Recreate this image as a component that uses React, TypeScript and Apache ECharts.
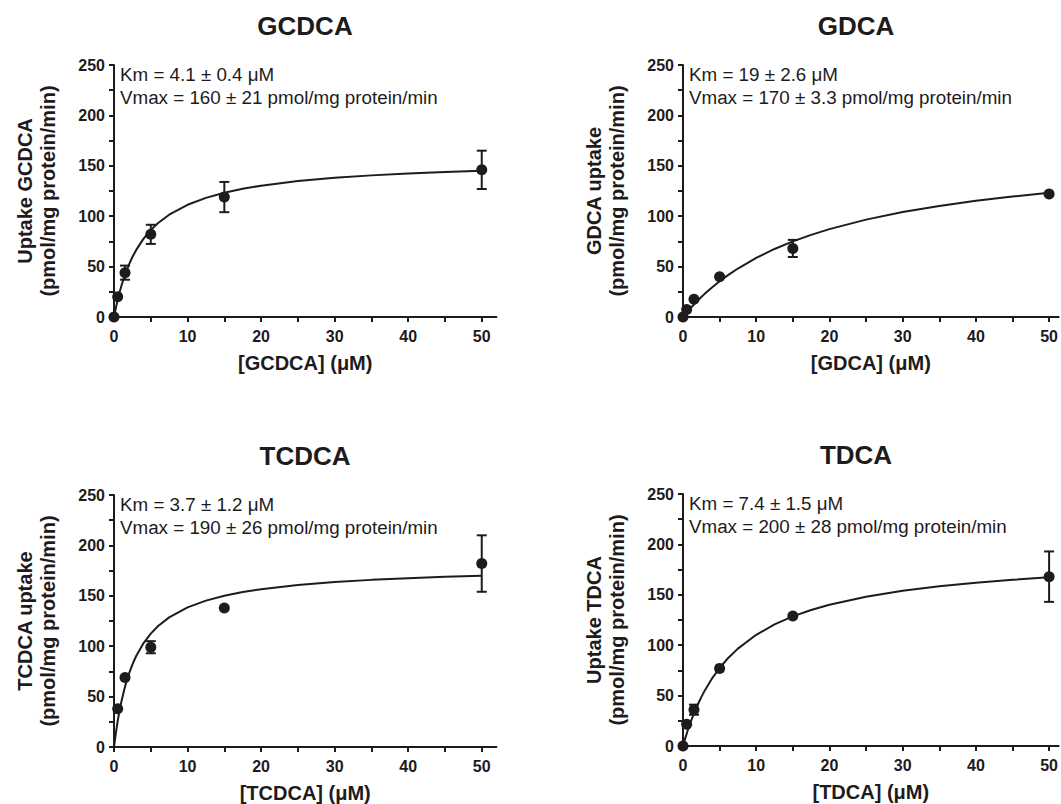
import React, { useEffect, useRef } from 'react';
import * as echarts from 'echarts';

// ---------- tick values ----------
const xLabelValues = [0, 10, 20, 30, 40, 50];
const xTickValues = [0, 5, 10, 15, 20, 25, 30, 35, 40, 45, 50];
const yLabelValues = [0, 50, 100, 150, 200, 250];

// ---------- measured data (mean, SEM) ----------
const gcdcaX = [0, 0.5, 1.5, 5, 15, 50];
const gcdcaY = [0, 20, 44, 82, 119, 146];
const gcdcaErr = [0, 0, 7, 9.5, 15, 19];

const gdcaX = [0, 0.5, 1.5, 5, 15, 50];
const gdcaY = [0, 7.5, 17.5, 40, 68, 122];
const gdcaErr = [0, 0, 0, 0, 8.5, 0];

const tcdcaX = [0.5, 1.5, 5, 15, 50];
const tcdcaY = [38, 69, 99, 138, 182];
const tcdcaErr = [0, 0, 6, 0, 28];

const tdcaX = [0, 0.5, 1.5, 5, 15, 50];
const tdcaY = [0, 21.5, 36, 77, 129, 168];
const tdcaErr = [0, 0, 5, 0, 0, 25];

// ---------- fitted curves ----------
const fitX = [0, 0.25, 0.5, 0.75, 1, 1.5, 2, 2.5, 3, 4, 5, 6, 7.5, 10, 12.5, 15, 17.5, 20, 25, 30, 35, 40, 45, 50];
const gcdcaFit = [0, 9.0, 17.1, 24.3, 30.8, 42.1, 51.5, 59.5, 66.3, 77.5, 86.3, 93.3, 101.5, 111.3, 118.2, 123.3, 127.2, 130.3, 134.9, 138.1, 140.5, 142.4, 143.9, 145.1];
const gdcaFit = [0, 2.2, 4.4, 6.5, 8.5, 12.4, 16.2, 19.8, 23.2, 29.6, 35.4, 40.8, 48.1, 58.6, 67.5, 75.0, 81.5, 87.2, 96.6, 104.1, 110.2, 115.3, 119.5, 123.2];
const tcdcaFit = [0, 13.8, 25.7, 36.0, 45.0, 60.0, 72.0, 81.8, 90.0, 102.9, 112.5, 120.0, 128.6, 138.5, 145.2, 150.0, 153.7, 156.5, 160.7, 163.6, 165.8, 167.4, 168.8, 169.8];
const tdcaFit = [0, 6.3, 12.2, 17.7, 22.9, 32.4, 40.9, 48.5, 55.4, 67.4, 77.4, 86.0, 96.6, 110.3, 120.6, 128.6, 134.9, 140.1, 148.1, 154.0, 158.5, 162.0, 164.9, 167.3];

// ---------- texts ----------
const titles = ['GCDCA', 'GDCA', 'TCDCA', 'TDCA'];
const yNames = ['Uptake GCDCA', 'GDCA uptake', 'TCDCA uptake', 'Uptake TDCA'];
const yUnit = '(pmol/mg protein/min)';
const xNames = ['[GCDCA] (μM)', '[GDCA] (μM)', '[TCDCA] (μM)', '[TDCA] (μM)'];
const kmTexts = ['Km = 4.1 ± 0.4 μM', 'Km = 19 ± 2.6 μM', 'Km = 3.7 ± 1.2 μM', 'Km = 7.4 ± 1.5 μM'];
const vmaxTexts = [
  'Vmax = 160 ± 21 pmol/mg protein/min',
  'Vmax = 170 ± 3.3 pmol/mg protein/min',
  'Vmax = 190 ± 26 pmol/mg protein/min',
  'Vmax = 200 ± 28 pmol/mg protein/min',
];

const INK = '#1e1b1c';
const FONT = '"Liberation Sans", Arial, Helvetica, sans-serif';

const panels = [
  { x: gcdcaX, y: gcdcaY, err: gcdcaErr, fit: gcdcaFit, left: 114, top: 65, xMax: 52, titleX: 305 },
  { x: gdcaX, y: gdcaY, err: gdcaErr, fit: gdcaFit, left: 683, top: 65, xMax: 51.3, titleX: 856 },
  { x: tcdcaX, y: tcdcaY, err: tcdcaErr, fit: tcdcaFit, left: 114, top: 495, xMax: 52, titleX: 305 },
  { x: tdcaX, y: tdcaY, err: tdcaErr, fit: tdcaFit, left: 683, top: 494, xMax: 51.3, titleX: 856 },
];

const PX_PER_X = 7.355;
const GRID_H = 252;

function buildOption() {
  const grid: any[] = [];
  const xAxis: any[] = [];
  const yAxis: any[] = [];
  const series: any[] = [];
  const graphic: any[] = [];

  panels.forEach((p, i) => {
    grid.push({ left: p.left, top: p.top, width: p.xMax * PX_PER_X, height: GRID_H, containLabel: false });
    xAxis.push({
      type: 'value',
      gridIndex: i,
      min: 0,
      max: p.xMax,
      splitLine: { show: false },
      axisLine: { show: true, onZero: false, lineStyle: { color: INK, width: 2 } },
      axisTick: { show: true, customValues: xTickValues, length: 5, lineStyle: { color: INK, width: 2 } },
      axisLabel: {
        customValues: xLabelValues,
        color: INK,
        fontFamily: FONT,
        fontWeight: 'bold',
        fontSize: 16,
        margin: 11,
      },
      name: xNames[i],
      nameLocation: 'middle',
      nameGap: 36,
      nameTextStyle: { color: INK, fontFamily: FONT, fontWeight: 'bold', fontSize: 20 },
    });
    yAxis.push({
      type: 'value',
      gridIndex: i,
      min: 0,
      max: 250,
      interval: 25,
      splitLine: { show: false },
      axisLine: { show: true, onZero: false, lineStyle: { color: INK, width: 2 } },
      axisTick: { show: true, length: 5, lineStyle: { color: INK, width: 2 } },
      axisLabel: {
        color: INK,
        fontFamily: FONT,
        fontWeight: 'bold',
        fontSize: 16,
        margin: 9,
        formatter: (v: number) => (yLabelValues.indexOf(v) >= 0 ? String(v) : ''),
      },
    });

    series.push({
      type: 'line',
      xAxisIndex: i,
      yAxisIndex: i,
      data: fitX.map((xv, k) => [xv, p.fit[k]]),
      showSymbol: false,
      smooth: false,
      lineStyle: { color: INK, width: 2 },
      z: 2,
      silent: true,
    });
    series.push({
      type: 'custom',
      xAxisIndex: i,
      yAxisIndex: i,
      data: p.x.map((xv, k) => [xv, p.y[k] - p.err[k], p.y[k] + p.err[k]]),
      encode: { x: 0, y: [1, 2] },
      clip: false,
      z: 3,
      renderItem: (params: any, api: any) => {
        const xv = api.value(0);
        const lo = api.value(1);
        const hi = api.value(2);
        if (hi - lo <= 0) return null;
        const t = api.coord([xv, hi]);
        const b = api.coord([xv, lo]);
        const w = 5;
        const st = { stroke: INK, lineWidth: 2 };
        return {
          type: 'group',
          children: [
            { type: 'line', shape: { x1: t[0], y1: t[1], x2: b[0], y2: b[1] }, style: st },
            { type: 'line', shape: { x1: t[0] - w, y1: t[1], x2: t[0] + w, y2: t[1] }, style: st },
            { type: 'line', shape: { x1: b[0] - w, y1: b[1], x2: b[0] + w, y2: b[1] }, style: st },
          ],
        };
      },
    });
    series.push({
      type: 'scatter',
      xAxisIndex: i,
      yAxisIndex: i,
      data: p.x.map((xv, k) => [xv, p.y[k]]),
      symbol: 'circle',
      symbolSize: 11,
      itemStyle: { color: INK, opacity: 1 },
      clip: false,
      z: 4,
    });

    const txt = (text: string, x: number, y: number, font: string, align: string, rot = 0) => ({
      type: 'text',
      x,
      y,
      rotation: rot,
      silent: true,
      style: {
        text,
        fill: INK,
        font,
        align,
        verticalAlign: 'middle',
        textAlign: align,
        textVerticalAlign: 'middle',
      },
    });
    graphic.push(txt(titles[i], p.titleX, p.top - 39.5, `bold 26px ${FONT}`, 'center'));
    graphic.push(txt(yNames[i], p.left - 89, p.top + GRID_H / 2, `bold 20px ${FONT}`, 'center', Math.PI / 2));
    graphic.push(txt(yUnit, p.left - 66, p.top + GRID_H / 2, `bold 20px ${FONT}`, 'center', Math.PI / 2));
    graphic.push(txt(kmTexts[i], p.left + 6, p.top + 9.5, `18.8px ${FONT}`, 'left'));
    graphic.push(txt(vmaxTexts[i], p.left + 6, p.top + 32, `18.8px ${FONT}`, 'left'));
  });

  return {
    animation: false,
    backgroundColor: '#ffffff',
    grid,
    xAxis,
    yAxis,
    series,
    graphic,
  };
}

export default function App() {
  const ref = useRef<HTMLDivElement>(null);
  useEffect(() => {
    if (!ref.current) return;
    const chart = echarts.init(ref.current, undefined, { renderer: 'svg' });
    chart.setOption(buildOption() as any);
    return () => chart.dispose();
  }, []);
  return (
    <div
      ref={ref}
      style={{ position: 'absolute', left: 0, top: 0, width: 1061, height: 804, background: '#fff' }}
    />
  );
}
